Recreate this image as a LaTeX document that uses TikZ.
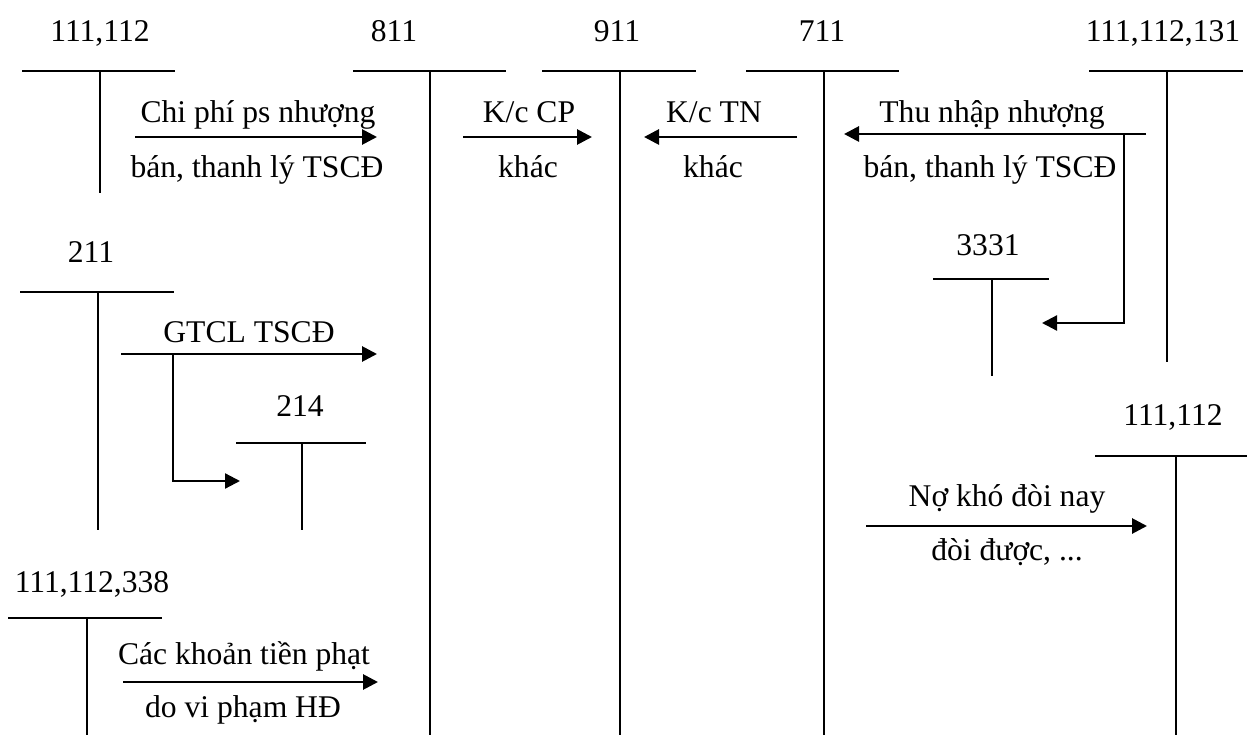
\documentclass[tikz,border=0pt]{standalone}
\usepackage{fontspec}
\setmainfont{Liberation Serif}
\usetikzlibrary{arrows.meta}
\begin{document}
\begin{tikzpicture}[x=1pt,y=-1pt,
  lbl/.style={anchor=base,inner sep=0pt,font=\fontsize{31.6}{37}\selectfont},
  tline/.style={line width=1.7pt},
  flow/.style={line width=2.8pt,-{Triangle[length=15pt,width=15pt]}},
  elbowflow/.style={line width=2.3pt,-{Triangle[length=15pt,width=15pt]}}]
\useasboundingbox (0,0) rectangle (1247,735);

% ---- account labels ----
\node[lbl] (n111a) at (100,42) {111,112};
\node[lbl] (n811) at (394,42) {811};
\node[lbl] (n911) at (617,42) {911};
\node[lbl] (n711) at (822,42) {711};
\node[lbl] (n111c) at (1163,42) {111,112,131};
\node[lbl] (n3331) at (988,256) {3331};
\node[lbl] (n211) at (91,262) {211};
\node[lbl] (n214) at (300,416) {214};
\node[lbl] (n338) at (92,592) {111,112,338};
\node[lbl] (n111r) at (1173,425) {111,112};

% ---- T-account coordinates ----
\coordinate (t1l) at (22,71);  \coordinate (t1r) at (175,71);
\coordinate (t1t) at (100,71); \coordinate (t1b) at (100,193);
\coordinate (t2l) at (353,71); \coordinate (t2r) at (506,71);
\coordinate (t2t) at (430,71); \coordinate (t2b) at (430,735);
\coordinate (t3l) at (542,71); \coordinate (t3r) at (696,71);
\coordinate (t3t) at (620,71); \coordinate (t3b) at (620,735);
\coordinate (t4l) at (746,71); \coordinate (t4r) at (899,71);
\coordinate (t4t) at (824,71); \coordinate (t4b) at (824,735);
\coordinate (t5l) at (1089,71); \coordinate (t5r) at (1243,71);
\coordinate (t5t) at (1167,71); \coordinate (t5b) at (1167,362);
\coordinate (t6l) at (933,279); \coordinate (t6r) at (1049,279);
\coordinate (t6t) at (992,279); \coordinate (t6b) at (992,376);
\coordinate (t7l) at (20,292); \coordinate (t7r) at (174,292);
\coordinate (t7t) at (98,292); \coordinate (t7b) at (98,530);
\coordinate (t8l) at (236,443); \coordinate (t8r) at (366,443);
\coordinate (t8t) at (302,443); \coordinate (t8b) at (302,530);
\coordinate (t9l) at (8,618); \coordinate (t9r) at (162,618);
\coordinate (t9t) at (87,618); \coordinate (t9b) at (87,735);
\coordinate (t10l) at (1095,456); \coordinate (t10r) at (1247,456);
\coordinate (t10t) at (1176,456); \coordinate (t10b) at (1176,735);

\foreach \i in {1,...,10} {
  \draw[tline] (t\i l) -- (t\i r);
  \draw[tline] (t\i t) -- (t\i b);
}

% ---- flows ----
\coordinate (a1s) at (135,137); \coordinate (a1e) at (377,137);
\draw[flow] (a1s) -- (a1e);
\node[lbl] (a1u) at (258,123) {Chi phí ps nhượng};
\node[lbl] (a1d) at (257,178) {bán, thanh lý TSCĐ};

\coordinate (a2s) at (463,137); \coordinate (a2e) at (592,137);
\draw[flow] (a2s) -- (a2e);
\node[lbl] (a2u) at (529,123) {K/c CP};
\node[lbl] (a2d) at (528,178) {khác};

\coordinate (a3s) at (797,137); \coordinate (a3e) at (644,137);
\draw[flow] (a3s) -- (a3e);
\node[lbl] (a3u) at (714,123) {K/c TN};
\node[lbl] (a3d) at (713,178) {khác};

\coordinate (a4s) at (1146,134); \coordinate (a4e) at (844,134);
\draw[flow] (a4s) -- (a4e);
\node[lbl] (a4u) at (992,123) {Thu nhập nhượng};
\node[lbl] (a4d) at (990,178) {bán, thanh lý TSCĐ};
\coordinate (b4s) at (1124,134); \coordinate (b4e) at (1042,323);
\draw[elbowflow] (b4s) |- (b4e);

\coordinate (a5s) at (121,354); \coordinate (a5e) at (377,354);
\draw[flow] (a5s) -- (a5e);
\node[lbl] (a5u) at (249,342) {GTCL TSCĐ};
\coordinate (b5s) at (173,354); \coordinate (b5e) at (240,481);
\draw[elbowflow] (b5s) |- (b5e);

\coordinate (a6s) at (123,682); \coordinate (a6e) at (378,682);
\draw[flow] (a6s) -- (a6e);
\node[lbl] (a6u) at (244,664) {Các khoản tiền phạt};
\node[lbl] (a6d) at (243,717) {do vi phạm HĐ};

\coordinate (a7s) at (866,526); \coordinate (a7e) at (1147,526);
\draw[flow] (a7s) -- (a7e);
\node[lbl] (a7u) at (1007,506) {Nợ khó đòi nay};
\node[lbl] (a7d) at (1007,560) {đòi được, ...};
\end{tikzpicture}
\end{document}
